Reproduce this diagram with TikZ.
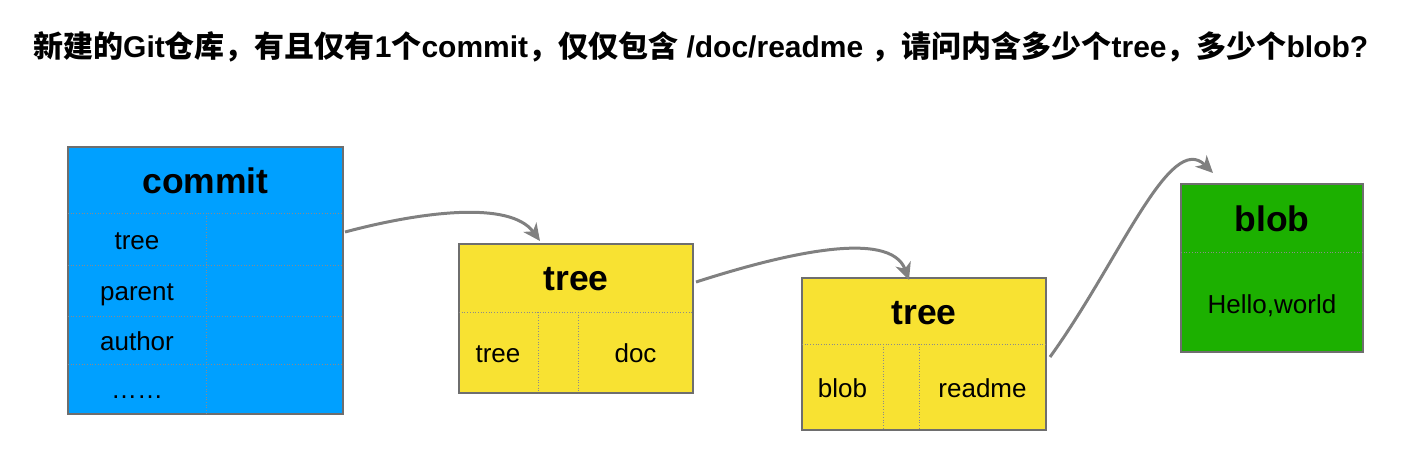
\documentclass[tikz,border=0pt]{standalone}
\usepackage{fontspec}
\setmainfont{Liberation Sans}
\newfontfamily\cjk{Noto Sans CJK SC}
\usetikzlibrary{arrows.meta}
\definecolor{cblue}{RGB}{0,160,255}
\definecolor{cyellow}{RGB}{248,226,50}
\definecolor{cgreen}{RGB}{28,176,0}
\definecolor{cborder}{RGB}{110,110,110}
\definecolor{carrow}{RGB}{128,128,128}
\tikzset{
  objbox/.style={draw=cborder, line width=1.2pt, inner sep=0pt, rectangle},
  divider/.style={draw=cborder!80, line width=0.7pt, dotted},
  headtext/.style={font=\bfseries\fontsize{35.5}{42}\selectfont, inner sep=0pt},
  celltext/.style={font=\fontsize{26}{31}\selectfont, inner sep=0pt, text height=19pt, text depth=0pt},
  conn/.style={draw=carrow, line width=3pt, -{Stealth[length=17pt,width=16pt,inset=5pt]}}
}
\begin{document}
\begin{tikzpicture}[x=1pt,y=-1pt]
\useasboundingbox (0,0) rectangle (1425,472);

% title
\node[anchor=west, font=\bfseries\fontsize{30}{36}\selectfont, inner sep=0pt] (title) at (33,47)
 {{\cjk 新建的}Git{\cjk 仓库，有且仅有}1{\cjk 个}commit{\cjk ，仅仅包含} /doc/readme {\cjk ，请问内含多少个}tree{\cjk ，多少个}blob?};

% commit box
\node[objbox, fill=cblue, minimum width=275pt, minimum height=267pt] (commit) at (205.5,280.5) {};
\draw[divider] (68,213) -- (343,213);
\draw[divider] (68,265) -- (343,265);
\draw[divider] (68,316) -- (343,316);
\draw[divider] (68,364) -- (343,364);
\draw[divider] (206,213) -- (206,414);
\node[headtext] (commithead) at (205.5,181) {commit};
\node[celltext] (ctree) at (137,240) {tree};
\node[celltext] (cparent) at (137,291) {parent};
\node[celltext] (cauthor) at (137,341) {author};
\node[celltext] (cdots) at (137,389) {……};

% tree 1
\node[objbox, fill=cyellow, minimum width=234pt, minimum height=149pt] (treeA) at (576,318.5) {};
\draw[divider] (459,312) -- (693,312);
\draw[divider] (538,312) -- (538,393);
\draw[divider] (578,312) -- (578,393);
\node[headtext] (treeAhead) at (576,279) {tree};
\node[celltext] (treeAl) at (498,353) {tree};
\node[celltext] (treeAr) at (635.5,353) {doc};

% tree 2
\node[objbox, fill=cyellow, minimum width=244pt, minimum height=152pt] (treeB) at (924,354) {};
\draw[divider] (802,344) -- (1046,344);
\draw[divider] (883,344) -- (883,430);
\draw[divider] (919,344) -- (919,430);
\node[headtext] (treeBhead) at (924,313) {tree};
\node[celltext] (treeBl) at (842.5,388) {blob};
\node[celltext] (treeBr) at (982.5,388) {readme};

% blob
\node[objbox, fill=cgreen, minimum width=182pt, minimum height=168pt] (blob) at (1272,268) {};
\draw[divider] (1181,252) -- (1363,252);
\node[headtext] (blobhead) at (1272,219) {blob};
\node[celltext] (blobtext) at (1272,304) {Hello,world};

% connectors
\coordinate (a1s) at (345,232);
\coordinate (a1e) at (540,241);
\coordinate (a2s) at (696,282);
\coordinate (a2e) at (909,280);
\coordinate (a3s) at (1050,357);
\coordinate (a3e) at (1213,173);
\draw[conn] (a1s) .. controls (420,212) and (510,200) .. (a1e);
\draw[conn] (a2s) .. controls (780,255) and (890,228) .. (a2e);
\draw[conn] (a3s) .. controls (1120,260) and (1170,130) .. (a3e);
\end{tikzpicture}
\end{document}
